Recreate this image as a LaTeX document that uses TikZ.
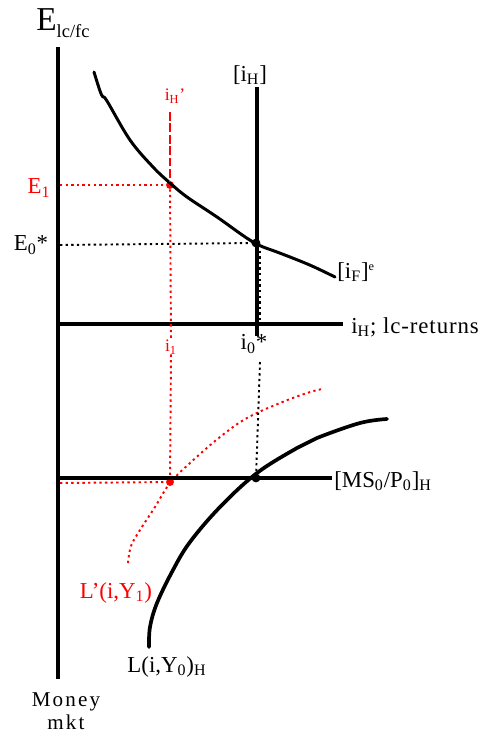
\documentclass[tikz,border=0pt]{standalone}
\usepackage{fontspec}
\setmainfont{Liberation Serif}
\usetikzlibrary{positioning}
\definecolor{shiftred}{RGB}{255,0,0}
\tikzset{
    axis/.style={line width=2.3pt},
    curve/.style={line width=1.7pt, line join=round, line cap=round},
    guide/.style={line width=1.1pt, dash pattern=on 1.3pt off 1.9pt},
    redguide/.style={guide, draw=shiftred},
    reddashed/.style={line width=1.1pt, draw=shiftred, dash pattern=on 5pt off 1.5pt},
    lbl/.style={font=\fontsize{13}{15}\selectfont, inner sep=0pt},
    redlbl/.style={lbl, text=shiftred},
    smalllbl/.style={font=\fontsize{10}{12}\selectfont, inner sep=0pt, text=shiftred},
    eqdot/.style={circle, fill=black, inner sep=0pt, minimum size=5pt},
    reddot/.style={circle, fill=shiftred, inner sep=0pt, minimum size=4.5pt}
}
\newcommand{\sub}[1]{\textsubscript{#1}}

\begin{document}
\begin{tikzpicture}[x=0.02cm, y=-0.02cm]
    \useasboundingbox (0,0) rectangle (480,737);

    \coordinate (vtop) at (58,47);
    \coordinate (vbot) at (58,679);
    \coordinate (hleft) at (58,324);
    \coordinate (hright) at (343,324);
    \coordinate (ihtop) at (257,87);
    \coordinate (ihbot) at (257,336);
    \coordinate (msleft) at (58,478);
    \coordinate (msright) at (332,478);

    \node[lbl, anchor=south west] (elabel) at (36,38) {\fontsize{19}{21}\selectfont E\raisebox{-4pt}{\fontsize{10.5}{12}\selectfont lc/fc}};
    \node[lbl] (ihlabel) at (250,75) {[i\sub{H}]};
    \node[smalllbl] (ihprime) at (175,96) {i\sub{H}'};
    \node[redlbl] (e1label) at (39,188) {E\sub{1}};
    \node[lbl] (e0label) at (31,245) {E\sub{0}*};
    \node[lbl, anchor=west] (iflabel) at (337,272) {[i\sub{F}]\textsuperscript{\fontsize{7}{8}\selectfont e}};
    \node[lbl, anchor=west, font=\fontsize{13}{15}\selectfont\addfontfeature{LetterSpace=4}] (hlabel) at (351,327) {i\sub{H}; lc-returns};
    \node[lbl] (i0label) at (254,344) {i\sub{0}*};
    \node[smalllbl] (i1label) at (171,347) {i\sub{1}};
    \node[lbl, anchor=west] (mslabel) at (334,481) {[MS\sub{0}/P\sub{0}]\sub{H}};
    \node[redlbl] (lprime) at (116,593) {L'(i,Y\sub{1})};
    \node[lbl] (llabel) at (167,667) {L(i,Y\sub{0})\sub{H}};
    \node[lbl, align=center, font=\fontsize{12}{13}\selectfont\addfontfeature{LetterSpace=10}] (mkt) at (66,711) {Money\\mkt};

    \node[reddot] (e1dot) at (170,185) {};
    \node[eqdot] (e0dot) at (256,243) {};
    \node[eqdot] (msdot) at (256,478) {};
    \node[reddot] (l1dot) at (170,482) {};

    \coordinate (e1axis) at (60,185);
    \coordinate (e0axis) at (60,245);
    \coordinate (l1axis) at (60,483);
    \coordinate (ihptop) at (170,112);
    \coordinate (i0top) at (260,245);
    \coordinate (i0axis) at (260,322);
    \coordinate (i0low) at (260,362);

    \draw[curve] plot[smooth, tension=0.6] coordinates {(94,72) (100,91) (103,97) (107,101) (130,140) (153,167) (170,183) (187,197) (217,217) (253,242) (277,252) (290,257) (312,266) (335,277)};
    \draw[curve, line width=2.1pt] plot[smooth, tension=0.6] coordinates {(149,647) (150,627) (157,603) (173,570) (190,542) (220,507) (257,473) (297,448) (317,438) (360,423) (387,419)};
    \draw[redguide] plot[smooth, tension=0.6] coordinates {(128,563) (131,546) (140,530) (155,507) (170,483) (190,463) (220,437) (247,418) (280,403) (307,393) (322,389)};

    \draw[axis] (vtop) -- (vbot);
    \draw[axis] (hleft) -- (hright);
    \draw[axis] (ihtop) -- (ihbot);
    \draw[axis] (msleft) -- (msright);

    \draw[reddashed] (ihptop) -- (e1dot);
    \draw[redguide] (e1dot) -- (i1label.north);
    \draw[redguide] (i1label.south) -- (l1dot);
    \draw[redguide] (e1axis) -- (e1dot);
    \draw[redguide] (l1axis) -- (l1dot);
    \draw[guide] (e0axis) -- (e0dot);
    \draw[guide] (i0top) -- (i0axis);
    \draw[guide] (i0low) -- (msdot);

\end{tikzpicture}
\end{document}
